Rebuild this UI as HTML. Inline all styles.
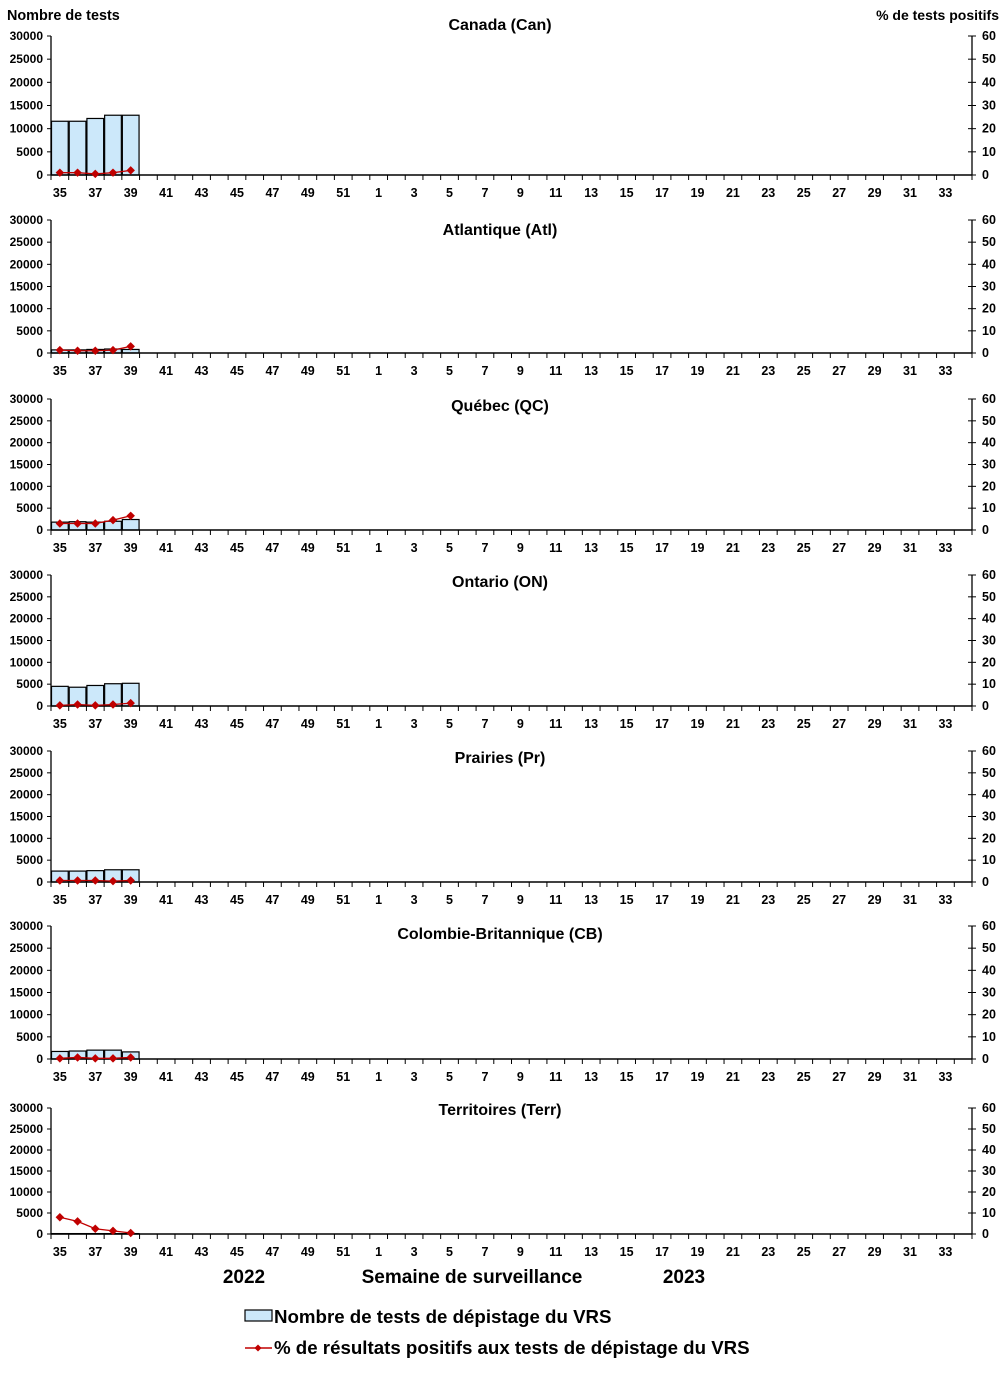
<!DOCTYPE html>
<html><head><meta charset="utf-8">
<style>
html,body{margin:0;padding:0;background:#fff;}
body{width:1004px;height:1374px;position:relative;overflow:hidden;font-family:"Liberation Sans",Arial,sans-serif;}
svg text{font-family:"Liberation Sans",Arial,sans-serif;}
</style></head><body>
<svg id="s" width="1004" height="1374" xmlns="http://www.w3.org/2000/svg"></svg>
<script>
const panels=[
 {t:"Canada (Can)",ty:30,top:36,bot:175,b:[11600,11600,12200,12900,12900],p:[1,1,0.5,1,2]},
 {t:"Atlantique (Atl)",ty:235,top:220,bot:353,b:[700,700,800,900,800],p:[1.3,1,1,1.3,3]},
 {t:"Québec (QC)",ty:411,top:399,bot:530,b:[1800,1900,1800,2000,2400],p:[3,3,3,4.5,6.5]},
 {t:"Ontario (ON)",ty:587,top:575,bot:706,b:[4500,4300,4700,5100,5200],p:[0.3,0.7,0.3,0.7,1.3]},
 {t:"Prairies (Pr)",ty:763,top:751,bot:882,b:[2500,2500,2600,2800,2800],p:[0.7,0.7,0.7,0.4,0.7]},
 {t:"Colombie-Britannique (CB)",ty:939,top:926,bot:1059,b:[1700,1800,2000,2000,1600],p:[0.3,0.7,0.3,0.3,0.7]},
 {t:"Territoires (Terr)",ty:1115,top:1108,bot:1234,b:[100,100,100,100,100],p:[8,6,2.5,1.5,0.5]}
];
const L=51,R=972,N=52,w=(R-L)/N;
let h='';
h+='<text x="7" y="20" font-size="14.4" font-weight="bold">Nombre de tests</text>';
h+='<text x="999" y="20" font-size="14" font-weight="bold" text-anchor="end">%  de tests positifs</text>';
const weeks=[];for(let i=35;i<=52;i++)weeks.push(i);for(let i=1;i<=34;i++)weeks.push(i);
panels.forEach(P=>{
 const H=P.bot-P.top;
 h+=`<text x="500" y="${P.ty}" font-size="16" font-weight="bold" text-anchor="middle">${P.t}</text>`;
 P.b.forEach((v,i)=>{const bh=v/30000*H;const x=L+i*w+0.5;
  h+=`<rect x="${x}" y="${P.bot-bh}" width="${w-1}" height="${bh}" fill="#cce8fa" stroke="#000" stroke-width="1.2"/>`;});
 h+=`<line x1="${L}" y1="${P.top}" x2="${L}" y2="${P.bot}" stroke="#000" stroke-width="1.3"/>`;
 h+=`<line x1="${R}" y1="${P.top}" x2="${R}" y2="${P.bot}" stroke="#000" stroke-width="1.3"/>`;
 h+=`<line x1="${L}" y1="${P.bot}" x2="${R}" y2="${P.bot}" stroke="#000" stroke-width="1.5"/>`;
 for(let k=0;k<=6;k++){const y=P.bot-k*H/6;
  h+=`<line x1="${L-4}" y1="${y}" x2="${L}" y2="${y}" stroke="#000"/>`;
  h+=`<line x1="${R-4}" y1="${y}" x2="${R+4}" y2="${y}" stroke="#000"/>`;
  h+=`<text x="${L-8}" y="${y+4}" font-size="12" font-weight="bold" text-anchor="end">${k*5000}</text>`;
  h+=`<text x="${R+10}" y="${y+4}" font-size="12.5" font-weight="bold">${k*10}</text>`;}
 for(let i=0;i<=N;i++){const x=L+i*w;h+=`<line x1="${x}" y1="${P.bot}" x2="${x}" y2="${P.bot+5}" stroke="#000"/>`;}
 weeks.forEach((wk,i)=>{if(i%2==0)h+=`<text x="${L+(i+0.5)*w}" y="${P.bot+22}" font-size="12.5" font-weight="bold" text-anchor="middle">${wk}</text>`;});
 const pts=P.p.map((v,i)=>[L+(i+0.5)*w,P.bot-v/60*H]);
 h+=`<polyline points="${pts.map(p=>p.join(',')).join(' ')}" fill="none" stroke="#c00000" stroke-width="1.3"/>`;
 pts.forEach(p=>h+=`<rect x="${p[0]-3}" y="${p[1]-3}" width="6" height="6" fill="#c00000" transform="rotate(45 ${p[0]} ${p[1]})"/>`);
});
h+='<text x="244" y="1283" font-size="19" font-weight="bold" text-anchor="middle">2022</text>';
h+='<text x="472" y="1283" font-size="19" font-weight="bold" text-anchor="middle">Semaine de surveillance</text>';
h+='<text x="684" y="1283" font-size="19" font-weight="bold" text-anchor="middle">2023</text>';
h+='<rect x="245" y="1310" width="27" height="11" fill="#cce8fa" stroke="#000" stroke-width="1.2"/>';
h+='<text x="274" y="1323" font-size="18.7" font-weight="bold">Nombre de tests de dépistage du VRS</text>';
h+='<line x1="245" y1="1348" x2="272" y2="1348" stroke="#c00000" stroke-width="1.5"/>';
h+='<rect x="255.5" y="1345.5" width="5" height="5" fill="#c00000" transform="rotate(45 258 1348)"/>';
h+='<text x="274" y="1354" font-size="18.7" font-weight="bold">% de résultats positifs aux tests de dépistage du VRS</text>';
document.getElementById('s').innerHTML=h;
</script>
</body></html>
